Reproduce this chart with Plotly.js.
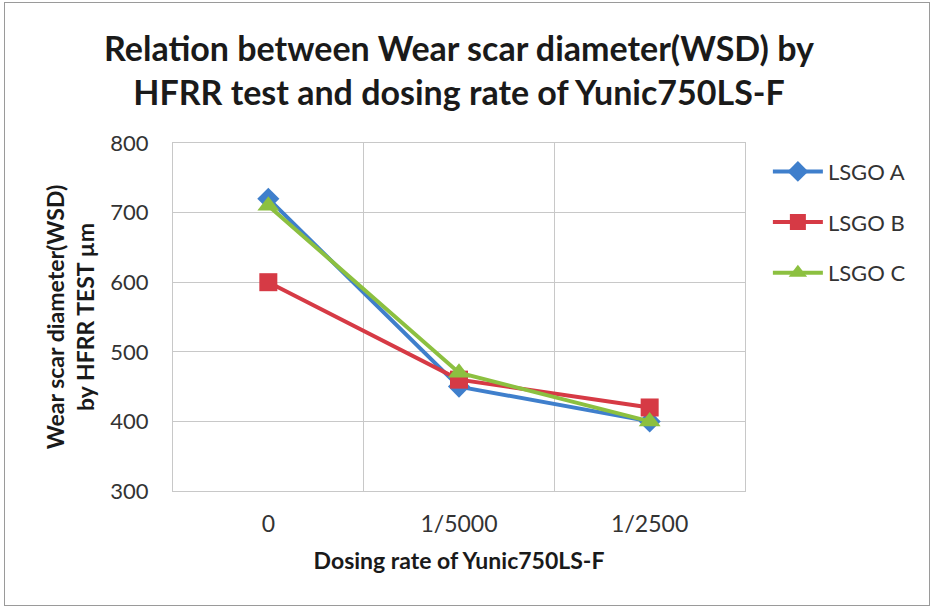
<!DOCTYPE html>
<html><head><meta charset="utf-8">
<script src="https://cdn.plot.ly/plotly-3.0.1.min.js"></script>
<style>
html,body{margin:0;padding:0;background:#fff;}
#wrap{position:relative;width:933px;height:608px;}
#chart{width:933px;height:608px;}
#frame{position:absolute;left:4px;top:2px;width:924px;height:602px;border:1px solid #9a9a9a;pointer-events:none;}
</style></head>
<body><div id="wrap"><div id="chart"></div><div id="frame"></div></div>
<script>
var categories = ["0", "1/5000", "1/2500"];
var seriesNames = ["LSGO A", "LSGO B", "LSGO C"];
var lsgoA = [720, 450, 400];
var lsgoB = [600, 460, 420];
var lsgoC = [710, 470, 400];
var yTicks = [300, 400, 500, 600, 700, 800];

var FONT = "Lato, 'Open Sans', sans-serif";
var styles = [
  {color:"#3f7fcc", symbol:"diamond", size:17},
  {color:"#d63a45", symbol:"square", size:18},
  {color:"#8cc040", symbol:"triangle-up", size:19}
];
var data = [lsgoA, lsgoB, lsgoC].map(function(v,i){
  return {x:categories, y:v, name:seriesNames[i], type:"scatter", mode:"lines+markers",
    legendgroup:"g"+i,
    line:{color:styles[i].color, width:4},
    marker:{color:styles[i].color, symbol:styles[i].symbol, size:styles[i].size}};
});
var layout = {
  width:933, height:608,
  margin:{l:173, r:188, t:143, b:117},
  paper_bgcolor:"#fff", plot_bgcolor:"#fff",
  font:{family:FONT, color:"#333"},
  title:{text:"<b>Relation between Wear scar diameter(WSD) by<br>HFRR test and dosing rate of Yunic750LS-F</b>",
    font:{size:34, color:"#1a1a1a", family:FONT}, x:0.5, xref:"paper", y:0.9, yanchor:"top"},
  xaxis:{type:"category", range:[-0.5,2.5], tickson:"boundaries", showgrid:true, gridcolor:"#c8c8c8",
    ticks:"", ticklen:0, showline:true, mirror:true, linecolor:"#c8c8c8", zeroline:false,
    tickfont:{size:23, color:"#333"}, ticklabelstandoff:12,
    title:{text:"<b>Dosing rate of Yunic750LS-F</b>", font:{size:23, color:"#1a1a1a"}, standoff:17}},
  yaxis:{range:[300,800], tickvals:yTicks, showgrid:true, gridcolor:"#c8c8c8", zeroline:false,
    showline:true, mirror:true, linecolor:"#c8c8c8", ticks:"", tickfont:{size:22, color:"#333"},
    ticklabelstandoff:19,
    title:{text:"<b>Wear scar diameter(WSD)<br>by HFRR TEST µm</b>", font:{size:23, color:"#1a1a1a"}, standoff:9}},
  showlegend:true,
  legend:{x:1.04, y:0.978, xanchor:"left", yanchor:"top", traceorder:"grouped", tracegroupgap:19,
    font:{size:22, color:"#333"}, bgcolor:"rgba(0,0,0,0)", itemwidth:50}
};
Plotly.newPlot("chart", data, layout, {displayModeBar:false, staticPlot:true});
</script></body></html>
